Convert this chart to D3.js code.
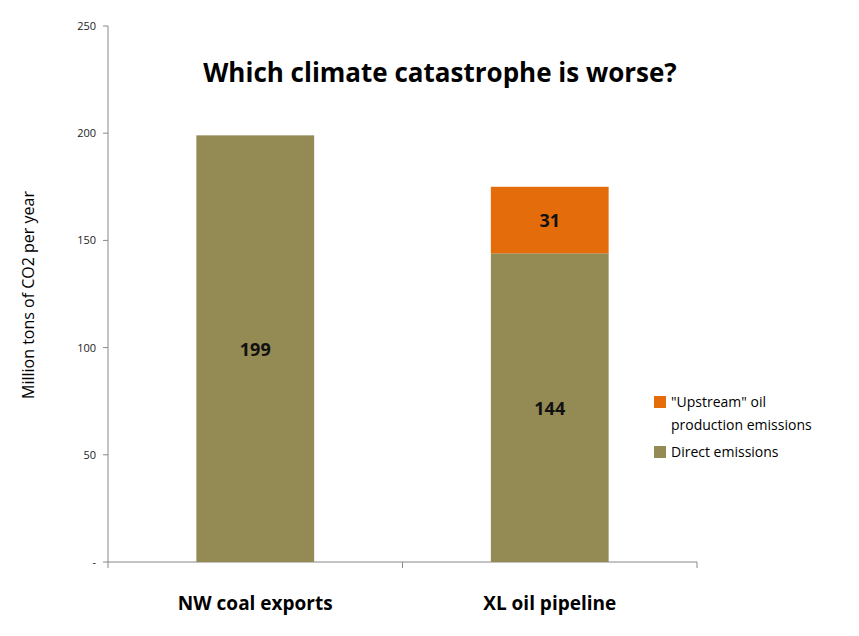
<!DOCTYPE html>
<html><head><meta charset="utf-8">
<script src="https://cdn.jsdelivr.net/npm/d3@7"></script>
<style>body{margin:0;background:#fff;font-family:"Open Sans",sans-serif}</style>
</head><body><div class="chart"></div>
<script>
// data
const categories = ["NW coal exports", "XL oil pipeline"];
const direct = [199, 144];
const upstream = [0, 31];
const yTicks = [0, 50, 100, 150, 200, 250];

const margin = ({ top: 26, right: 162, bottom: 74, left: 108 });
const width = 859 - margin.left - margin.right,
    height = 636 - margin.top - margin.bottom;
const svg = d3.select(".chart").append("svg")
    .attr("width", 859).attr("height", 636);
const g = svg.append("g")
    .attr("transform", `translate(${margin.left},${margin.top})`);

const xScale = d3.scaleBand().domain(categories).range([0, width]).paddingInner(0).paddingOuter(0);
const yScale = d3.scaleLinear().domain([0, 250]).range([height, 0]);
const bw = xScale.bandwidth() * 0.4;

// y axis
g.append("line").attr("x1", 0).attr("x2", 0).attr("y1", 0).attr("y2", height).attr("stroke", "#888");
yTicks.forEach(t => {
    g.append("line").attr("x1", -5).attr("x2", 0).attr("y1", yScale(t)).attr("y2", yScale(t)).attr("stroke", "#888");
    g.append("text").attr("x", -12).attr("y", yScale(t) + 4).attr("text-anchor", "end")
        .attr("font-size", 11).attr("fill", "#222").text(t === 0 ? "-" : t);
});
// x axis
g.append("line").attr("x1", 0).attr("x2", width).attr("y1", height).attr("y2", height).attr("stroke", "#888");
[0, 1, 2].forEach(i => {
    const x = i * xScale.bandwidth();
    g.append("line").attr("x1", x).attr("x2", x).attr("y1", height).attr("y2", height + 6).attr("stroke", "#888");
});

const series = [
    { name: "Direct emissions", values: direct, base: categories.map(() => 0), color: "#948A54" },
    { name: "\"Upstream\" oil production emissions", values: upstream, base: direct, color: "#E46C0A" }
];
series.forEach(s => {
    categories.forEach((c, i) => {
        if (!s.values[i]) return;
        const x = xScale(c) + (xScale.bandwidth() - bw) / 2;
        const y0 = yScale(s.base[i]), y1 = yScale(s.base[i] + s.values[i]);
        g.append("rect").attr("x", x).attr("y", y1).attr("width", bw).attr("height", y0 - y1).attr("fill", s.color);
        g.append("text").attr("x", x + bw / 2).attr("y", (y0 + y1) / 2 + 7).attr("text-anchor", "middle")
            .attr("font-size", 18).attr("font-weight", "bold").attr("fill", "#111").text(s.values[i]);
    });
});

// category labels
categories.forEach(c => {
    g.append("text").attr("x", xScale(c) + xScale.bandwidth() / 2).attr("y", height + 48)
        .attr("text-anchor", "middle").attr("font-size", 19).attr("font-weight", "bold").text(c);
});

// title
svg.append("text").attr("x", 440).attr("y", 82).attr("text-anchor", "middle")
    .attr("font-size", 26).attr("font-weight", "bold").text("Which climate catastrophe is worse?");
// y title
svg.append("text").attr("transform", "translate(34,295) rotate(-90)").attr("text-anchor", "middle")
    .attr("font-size", 16).text("Million tons of CO2 per year");

// legend
const lg = svg.append("g").attr("transform", "translate(654,396)");
lg.append("rect").attr("width", 12).attr("height", 12).attr("fill", series[1].color);
lg.append("text").attr("x", 17).attr("y", 11).attr("font-size", 14).text("\"Upstream\" oil");
lg.append("text").attr("x", 17).attr("y", 34).attr("font-size", 14).text("production emissions");
lg.append("rect").attr("y", 50).attr("width", 12).attr("height", 12).attr("fill", series[0].color);
lg.append("text").attr("x", 17).attr("y", 61).attr("font-size", 14).text("Direct emissions");
</script></body></html>
